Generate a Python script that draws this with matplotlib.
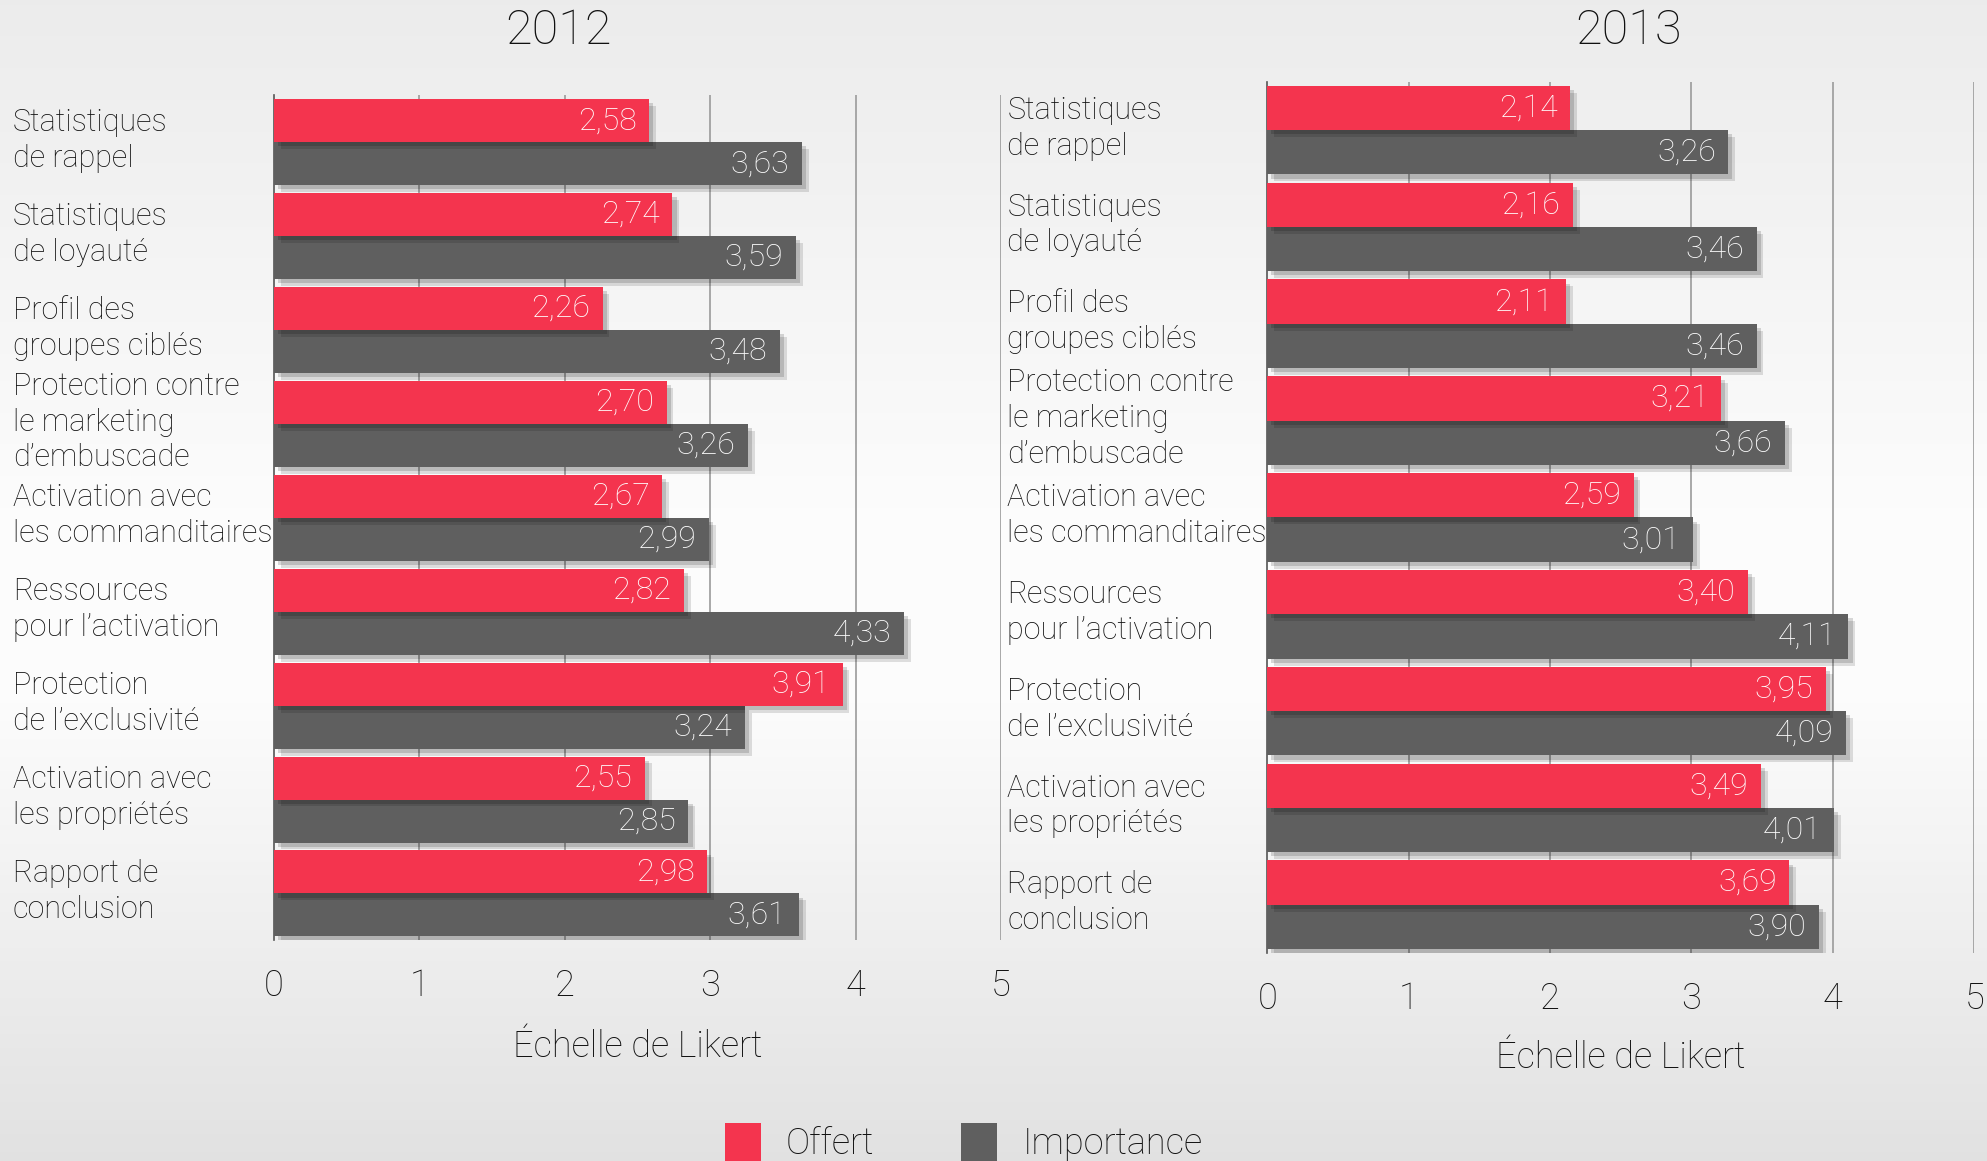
import numpy as np
import matplotlib
matplotlib.use("Agg")
import matplotlib.pyplot as plt
import matplotlib.patheffects as pe
from matplotlib.patches import Patch
from matplotlib.transforms import blended_transform_factory

plt.rcParams['font.family'] = ['Roboto', 'DejaVu Sans']
plt.rcParams['font.weight'] = 'light'

# Data
categories = ["Statistiques\nde rappel", "Statistiques\nde loyauté",
              "Profil des\ngroupes ciblés",
              "Protection contre\nle marketing\nd’embuscade",
              "Activation avec\nles commanditaires",
              "Ressources\npour l’activation",
              "Protection\nde l’exclusivité",
              "Activation avec\nles propriétés", "Rapport de\nconclusion"]
offert_2012 = [2.58, 2.74, 2.26, 2.70, 2.67, 2.82, 3.91, 2.55, 2.98]
importance_2012 = [3.63, 3.59, 3.48, 3.26, 2.99, 4.33, 3.24, 2.85, 3.61]
offert_2013 = [2.14, 2.16, 2.11, 3.21, 2.59, 3.40, 3.95, 3.49, 3.69]
importance_2013 = [3.26, 3.46, 3.46, 3.66, 3.01, 4.11, 4.09, 4.01, 3.90]
ticks = [0, 1, 2, 3, 4, 5]

red = '#F4344E'
gray = '#5F5F5F'
ink = '#111111'

fig = plt.figure(figsize=(19.87, 11.61), dpi=100)

# background gradient
bg = fig.add_axes([0, 0, 1, 1], zorder=-10)
g = np.interp(np.linspace(0, 1, 256), [0, 0.45, 0.6, 1], [0.925, 0.99, 0.99, 0.885])
img = np.repeat(g[:, None], 2, axis=1)
bg.imshow(np.dstack([img, img, img]), aspect='auto', extent=[0, 1, 0, 1], origin='upper')
bg.set_axis_off()

shadow = [pe.SimplePatchShadow(offset=(5, -5), shadow_rgbFace='k', alpha=0.12),
          pe.SimplePatchShadow(offset=(3, -3), shadow_rgbFace='k', alpha=0.15),
          pe.Normal()]


def panel(rect, offert, importance, title, title_xy, label_x, xlabel_y):
    ax = fig.add_axes(rect)
    ax.set_facecolor('none')
    y = np.arange(len(categories))
    h = 0.458
    ax.barh(y + h / 2, importance, height=h, color=gray, zorder=3, path_effects=shadow)
    ax.barh(y - h / 2, offert, height=h, color=red, zorder=4, path_effects=shadow)
    for yi, v in zip(y, offert):
        ax.annotate(f"{v:.2f}".replace('.', ','), xy=(v, yi - h / 2), xytext=(-9, 0),
                    textcoords='offset points', ha='right', va='center',
                    color='white', fontsize=23, zorder=6)
    for yi, v in zip(y, importance):
        ax.annotate(f"{v:.2f}".replace('.', ','), xy=(v, yi + h / 2), xytext=(-9, 0),
                    textcoords='offset points', ha='right', va='center',
                    color='white', fontsize=23, zorder=6)
    ax.set_xlim(0, 5)
    ax.set_ylim(len(categories) - 0.5, -0.5)
    ax.set_xticks(ticks)
    ax.set_xticklabels([str(t) for t in ticks], fontsize=26, color=ink)
    ax.tick_params(axis='x', length=0, pad=20)
    ax.set_yticks([])
    for x in ticks[1:]:
        ax.axvline(x, color='#9a9a9a', lw=1.2, zorder=1)
    for s in ['top', 'right', 'bottom']:
        ax.spines[s].set_visible(False)
    ax.spines['left'].set_color('#555555')
    ax.spines['left'].set_linewidth(1.2)
    trans = blended_transform_factory(fig.transFigure, ax.transData)
    for yi, c in zip(y, categories):
        ax.text(label_x, yi - 0.02, c, transform=trans, ha='left', va='center',
                fontsize=22, linespacing=1.3, color=ink)
    fig.text(title_xy[0], title_xy[1], title, ha='center', va='center', fontsize=35,
             color=ink)
    fig.text(rect[0] + rect[2] / 2, xlabel_y, "Échelle de Likert", ha='center',
             va='center', fontsize=26, color=ink)
    return ax


panel([0.1378, 0.190, 0.366, 0.728], offert_2012, importance_2012, "2012",
      (441 / 1568, 1 - 24 / 916), 10 / 1568, 1 - 826 / 916)
panel([0.6378, 0.179, 0.3558, 0.7506], offert_2013, importance_2013, "2013",
      (1285 / 1568, 1 - 24 / 916), 795 / 1568, 1 - 835 / 916)

handles = [Patch(facecolor=red, label='Offert'), Patch(facecolor=gray, label='Importance')]
fig.legend(handles=handles, loc='center', bbox_to_anchor=(0.485, 0.016), ncol=2,
           frameon=False, fontsize=26, handlelength=1.0, handleheight=1.3,
           handletextpad=0.7, columnspacing=2.4, labelcolor=ink)

fig.savefig('out.png', dpi=100)
